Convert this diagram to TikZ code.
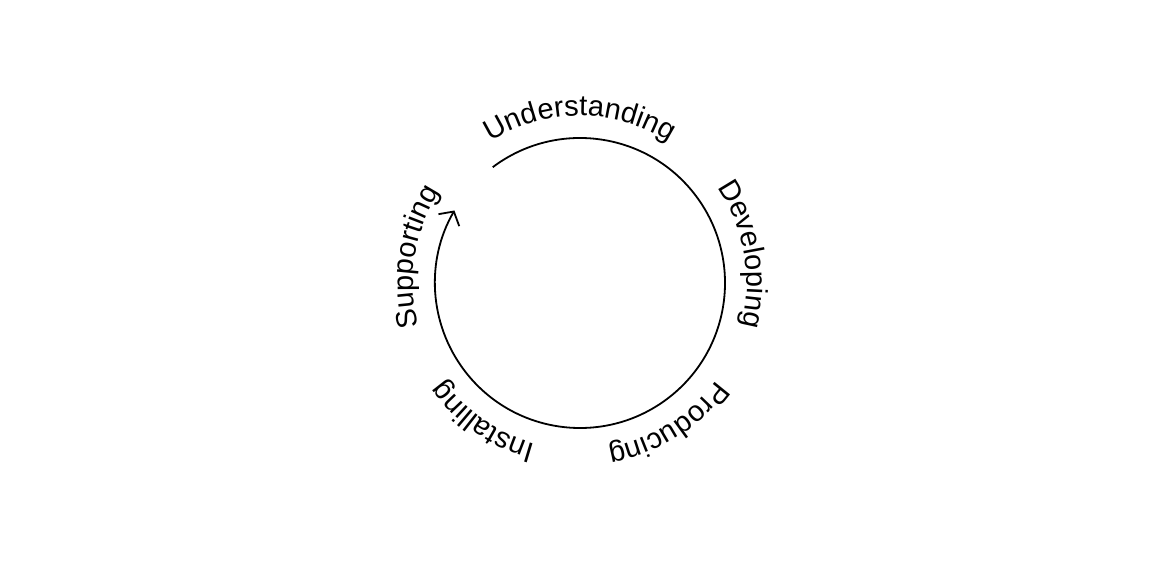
\documentclass[tikz,border=0pt]{standalone}
\usepackage{fontspec}
\setmainfont{Liberation Sans}
\usetikzlibrary{decorations.text,arrows.meta}
\begin{document}
\begin{tikzpicture}[x=1pt,y=1pt,
  cyc/.style={line width=1.8pt,-{Straight Barb[length=10pt,width=24pt,line width=1.8pt]}},
  lbl/.style={decorate,decoration={text along path,text align=center,
     text={|\fontsize{29}{29}\selectfont|#1}}}]
\useasboundingbox (0,0) rectangle (1160,560);
\coordinate (c) at (580,277);
\draw[cyc] (c) ++(127:145) arc[start angle=127,end angle=-210,radius=145];
\def\R{167}
\foreach \a/\t in {90/Understanding,10/Developing,-58/Producing,-125/Installing,171/Supporting}{
  \path[lbl=\t] (c) ++(\a+60:\R) arc[start angle=\a+60,end angle=\a-60,radius=\R];
}
\end{tikzpicture}
\end{document}
